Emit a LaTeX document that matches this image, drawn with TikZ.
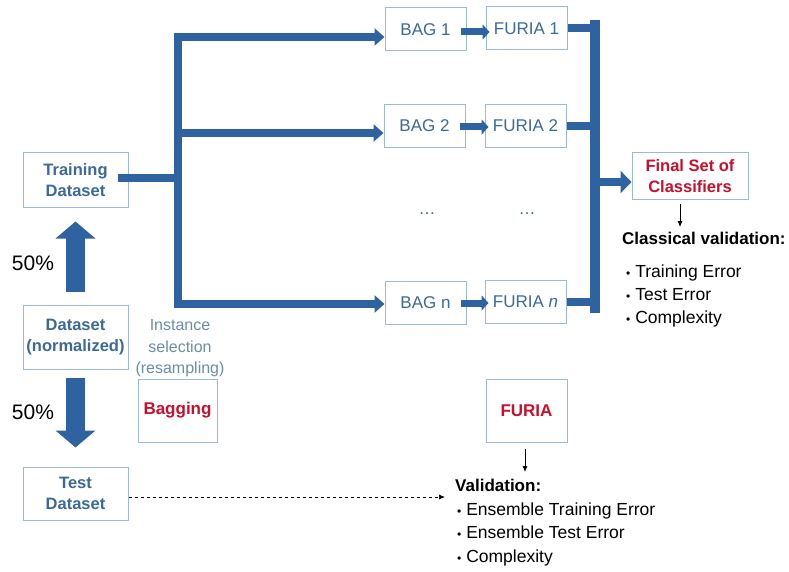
\documentclass[tikz,border=0pt]{standalone}
\usepackage{fontspec}
\setmainfont{Liberation Sans}
\usetikzlibrary{arrows.meta}

\definecolor{flowblue}{HTML}{2F62A0}
\definecolor{boxline}{HTML}{9DBBD0}
\definecolor{boxtext}{HTML}{3A6A95}
\definecolor{softtext}{HTML}{6A8CAB}
\definecolor{hotred}{HTML}{C8102E}

\newcommand{\bul}{{\fontsize{12}{12}\selectfont\textbullet}\ }

\begin{document}
\begin{tikzpicture}[x=1pt,y=-1pt,
    box/.style={draw=boxline, line width=1pt, fill=white, align=center,
      text=boxtext, inner sep=0pt, font=\fontsize{17}{21}\selectfont},
    bigbox/.style={box, font=\bfseries\fontsize{16.5}{21.5}\selectfont,
      minimum width=105pt},
    redbox/.style={box, text=hotred, font=\bfseries\fontsize{17}{20}\selectfont},
    stepbox/.style={box, minimum width=81pt, minimum height=43pt},
    flow/.style={draw=flowblue, line width=8pt, line join=miter},
    flowtip/.style={flow, -{Triangle[length=10pt,width=17pt]}},
    smallflow/.style={draw=flowblue, line width=7pt, -{Triangle[length=7pt,width=15pt]}},
    blockarrow/.style={draw=flowblue, line width=19pt, -{Triangle[length=17pt,width=39pt]}},
    listtext/.style={anchor=base west, inner sep=0pt, font=\fontsize{17.5}{20}\selectfont},
    listhead/.style={listtext, font=\bfseries\fontsize{17}{20}\selectfont},
    thinarrow/.style={draw=black, line width=0.8pt, -{Latex[length=6pt,width=5pt]}}]
  \useasboundingbox (0,0) rectangle (789,572);

  % Datasets on the left
  \node[bigbox, minimum height=54pt] (training) at (75.5,180) {Training\\Dataset};
  \node[bigbox, minimum height=64pt] (dataset) at (75.5,337) {Dataset\\(normalized)};
  \node[bigbox, minimum height=53pt] (test) at (75.5,493.5) {Test\\Dataset};
  \node[font=\fontsize{21}{24}\selectfont] (up50) at (33,263) {50\%};
  \node[font=\fontsize{21}{24}\selectfont] (down50) at (33,412) {50\%};
  \draw[blockarrow, shorten <=13pt, shorten >=14pt] (dataset.north) -- (training.south);
  \draw[blockarrow, shorten <=8pt, shorten >=19pt] (dataset.south) -- (test.north);

  % Bagging
  \node[text=softtext, align=center, font=\fontsize{16}{21.5}\selectfont] (instsel) at (180,348.5)
    {Instance\\selection\\(resampling)};
  \node[redbox, minimum width=79pt, minimum height=63pt] (bagging) at (177.5,410.5) {Bagging};

  % Bags and FURIA classifiers
  \node[stepbox] (bag1) at (425.5,29.5) {BAG 1};
  \node[stepbox] (bag2) at (424.5,126) {BAG 2};
  \node[stepbox] (bagn) at (425.5,302.5) {BAG n};
  \node[stepbox] (furia1) at (526.5,28.5) {FURIA 1};
  \node[stepbox] (furia2) at (525.5,126) {FURIA 2};
  \node[stepbox] (furian) at (525.5,301.5) {FURIA \textit{n}};
  \node[text=boxtext, font=\fontsize{17}{20}\selectfont] (dots1) at (427,214) {\dots};
  \node[text=boxtext, font=\fontsize{17}{20}\selectfont] (dots2) at (527,214) {\dots};

  % Trunk from the training set to the bags
  \coordinate (split) at (178,178);
  \coordinate (trunktop) at (178,37);
  \coordinate (trunkmid) at (178,133);
  \coordinate (trunkbot) at (178,304);
  \draw[flow, shorten <=-11pt] (training.east |- split) -- (split);
  \draw[flowtip] (trunkbot) -- (trunktop) -- (bag1.west |- trunktop);
  \draw[flowtip] (trunktop) -- (trunkbot) -- (bagn.west |- trunkbot);
  \draw[flowtip] (trunkmid) -- (bag2.west |- trunkmid);

  \draw[smallflow, shorten <=-6pt, shorten >=-4pt] (bag1.east |- 0,32) -- (furia1.west |- 0,32);
  \draw[smallflow, shorten <=-6pt, shorten >=-4pt] (bag2.east |- 0,127) -- (furia2.west |- 0,127);
  \draw[smallflow, shorten <=-6pt, shorten >=-4pt] (bagn.east |- 0,303) -- (furian.west |- 0,303);

  % Collecting bar and final set
  \node[redbox, minimum width=116pt, minimum height=46pt,
    font=\bfseries\fontsize{16.5}{20.5}\selectfont] (final) at (690,176) {Final Set of\\Classifiers};
  \coordinate (bartop) at (595,20);
  \coordinate (barbot) at (595,313);
  \coordinate (barout) at (595,182);
  \draw[flow, line width=10pt] (bartop) -- (barbot);
  \draw[flow] (furia1.east) -- (furia1.east -| bartop);
  \draw[flow] (furia2.east) -- (furia2.east -| bartop);
  \draw[flow] (furian.east) -- (furian.east -| bartop);
  \draw[flow, -{Triangle[length=11pt,width=22pt]}] (barout) -- (final.west |- barout);

  % Classical validation
  \coordinate (classarrow) at (680,227);
  \draw[thinarrow, shorten <=4pt] (final.south -| classarrow) -- (classarrow);
  \node[listhead] (classhead) at (622,244) {Classical validation:};
  \node[listtext] (classtrain) at (626,277) {\bul Training Error};
  \node[listtext] (classtest) at (626,300) {\bul Test Error};
  \node[listtext] (classcompl) at (626,323) {\bul Complexity};

  % Ensemble validation
  \node[redbox, minimum width=81pt, minimum height=63pt] (furia) at (526.5,410.5) {FURIA};
  \coordinate (valarrow) at (525,472);
  \coordinate (dashend) at (445,497);
  \draw[thinarrow, shorten <=6pt] (furia.south -| valarrow) -- (valarrow);
  \draw[thinarrow, line width=0.7pt, dashed] (test.east |- dashend) -- (dashend);
  \node[listhead] (valhead) at (455,491) {Validation:};
  \node[listtext] (valtrain) at (457,515) {\bul Ensemble Training Error};
  \node[listtext] (valtest) at (457,538) {\bul Ensemble Test Error};
  \node[listtext] (valcompl) at (457,562) {\bul Complexity};
\end{tikzpicture}
\end{document}
